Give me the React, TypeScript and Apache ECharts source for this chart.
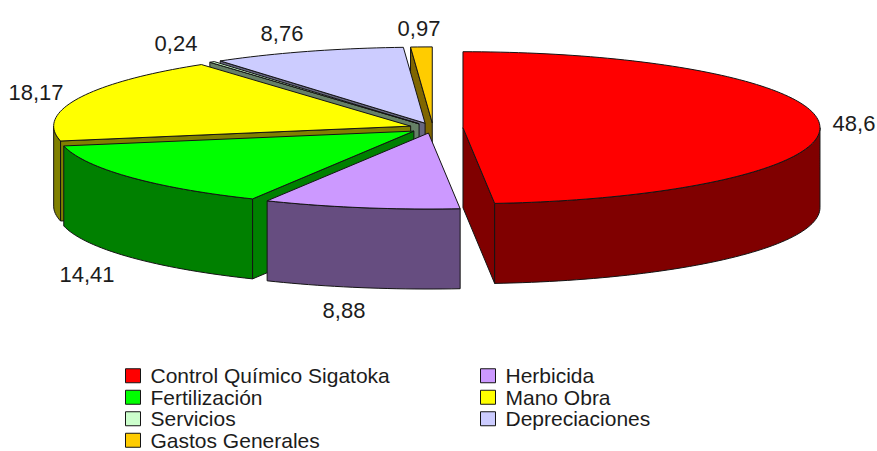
import React, { useEffect, useRef } from "react";
import * as echarts from "echarts";

const CATEGORIES = [
  "Control Químico Sigatoka",
  "Herbicida",
  "Fertilización",
  "Mano Obra",
  "Servicios",
  "Depreciaciones",
  "Gastos Generales",
];
const VALUES = [48.6, 8.88, 14.41, 18.17, 0.24, 8.76, 0.97];
const TICK_TEXTS = ["48,6", "8,88", "14,41", "18,17", "0,24", "8,76", "0,97"];

// Styling and layout, separate from the data
const TOP_COLORS = ["#FF0000", "#CC99FF", "#00FF00", "#FFFF00", "#CCFFCC", "#CCCCFF", "#FFCC00"];
const WALL_COLORS = ["#800000", "#664D80", "#008000", "#808000", "#668066", "#666680", "#806600"];
const EXPLODE = [30, 24, 24, 24, 24, 24, 24];
const LABEL_POS = [
  [854, 123],
  [344, 310],
  [87, 274],
  [36, 92],
  [176, 43],
  [282, 33],
  [419, 28],
];
const DRAW_ORDER = [6, 5, 4, 3, 2, 1, 0];
const LEFT_LEGEND = [0, 2, 4, 6];
const RIGHT_LEGEND = [1, 3, 5];
const CX = 433;
const CY = 128;
const RX = 357;
const RY = 76;
const DEPTH = 80;
const FONT = "'Liberation Sans', Arial, sans-serif";
const STROKE = "#141414";

const TOTAL = VALUES.reduce((a, b) => a + b, 0);
const RAD = Math.PI / 180;

function renderSlice(idx: number) {
  return (_params: any, api: any) => {
    const value = api.value(0) as number;
    const before = VALUES.slice(0, idx).reduce((a, b) => a + b, 0);
    const start = (before / TOTAL) * 360;
    const end = start + (value / TOTAL) * 360;
    const mid = (start + end) / 2;
    const ax = CX + EXPLODE[idx] * Math.sin(mid * RAD);
    const ay = CY - (EXPLODE[idx] * Math.cos(mid * RAD) * RY) / RX;
    const pt = (deg: number, dy = 0) => [
      ax + RX * Math.sin(deg * RAD),
      ay - RY * Math.cos(deg * RAD) + dy,
    ];
    const arc = (a: number, b: number, dy = 0) => {
      const n = Math.max(2, Math.ceil(Math.abs(b - a) / 1.5));
      const out: number[][] = [];
      for (let i = 0; i <= n; i++) out.push(pt(a + ((b - a) * i) / n, dy));
      return out;
    };
    const poly = (points: number[][], fill: string) => ({
      type: "polygon",
      shape: { points },
      style: { fill, stroke: STROKE, lineWidth: 1 },
    });
    const wall = WALL_COLORS[idx];
    const children: any[] = [];
    const cutVisible = (normalDeg: number) => Math.cos(normalDeg * RAD) < -0.001;
    if (cutVisible(start - 90)) {
      const o = pt(start);
      children.push(poly([[ax, ay], o, [o[0], o[1] + DEPTH], [ax, ay + DEPTH]], wall));
    }
    if (cutVisible(end + 90)) {
      const o = pt(end);
      children.push(poly([[ax, ay], o, [o[0], o[1] + DEPTH], [ax, ay + DEPTH]], wall));
    }
    const a0 = Math.max(start, 90);
    const a1 = Math.min(end, 270);
    if (a1 > a0) {
      children.push(poly([...arc(a0, a1), ...arc(a1, a0, DEPTH)], wall));
    }
    children.push(poly([[ax, ay], ...arc(start, end)], TOP_COLORS[idx]));
    children.push({
      type: "text",
      style: {
        text: TICK_TEXTS[idx],
        x: LABEL_POS[idx][0],
        y: LABEL_POS[idx][1],
        align: "center",
        verticalAlign: "middle",
        font: `22px ${FONT}`,
        fill: "#1c1c1c",
      },
    });
    return { type: "group", children };
  };
}

function makeLegend(ids: number[], left: number) {
  return {
    orient: "vertical" as const,
    left,
    top: 365,
    height: 120,
    padding: 0,
    itemWidth: 15,
    itemHeight: 14,
    itemGap: 0,
    icon: "rect",
    selectedMode: false,
    data: ids.map((i) => CATEGORIES[i]),
    itemStyle: { borderColor: STROKE, borderWidth: 1 },
    textStyle: {
      fontFamily: FONT,
      fontSize: 21,
      color: "#1c1c1c",
      lineHeight: 21.5,
      padding: [0, 0, 0, 5],
    },
  };
}

export default function App() {
  const ref = useRef<HTMLDivElement>(null);
  useEffect(() => {
    const chart = echarts.init(ref.current!, undefined, { renderer: "svg" });
    chart.setOption({
      animation: false,
      backgroundColor: "#ffffff",
      legend: [makeLegend(LEFT_LEGEND, 125), makeLegend(RIGHT_LEGEND, 480)],
      series: DRAW_ORDER.map((i) => ({
        type: "custom",
        name: CATEGORIES[i],
        coordinateSystem: "none",
        silent: true,
        itemStyle: { color: TOP_COLORS[i] },
        data: [VALUES[i]],
        renderItem: renderSlice(i),
      })),
    });
    return () => chart.dispose();
  }, []);
  return (
    <div
      ref={ref}
      style={{ position: "fixed", left: 0, top: 0, width: 877, height: 451 }}
    />
  );
}
